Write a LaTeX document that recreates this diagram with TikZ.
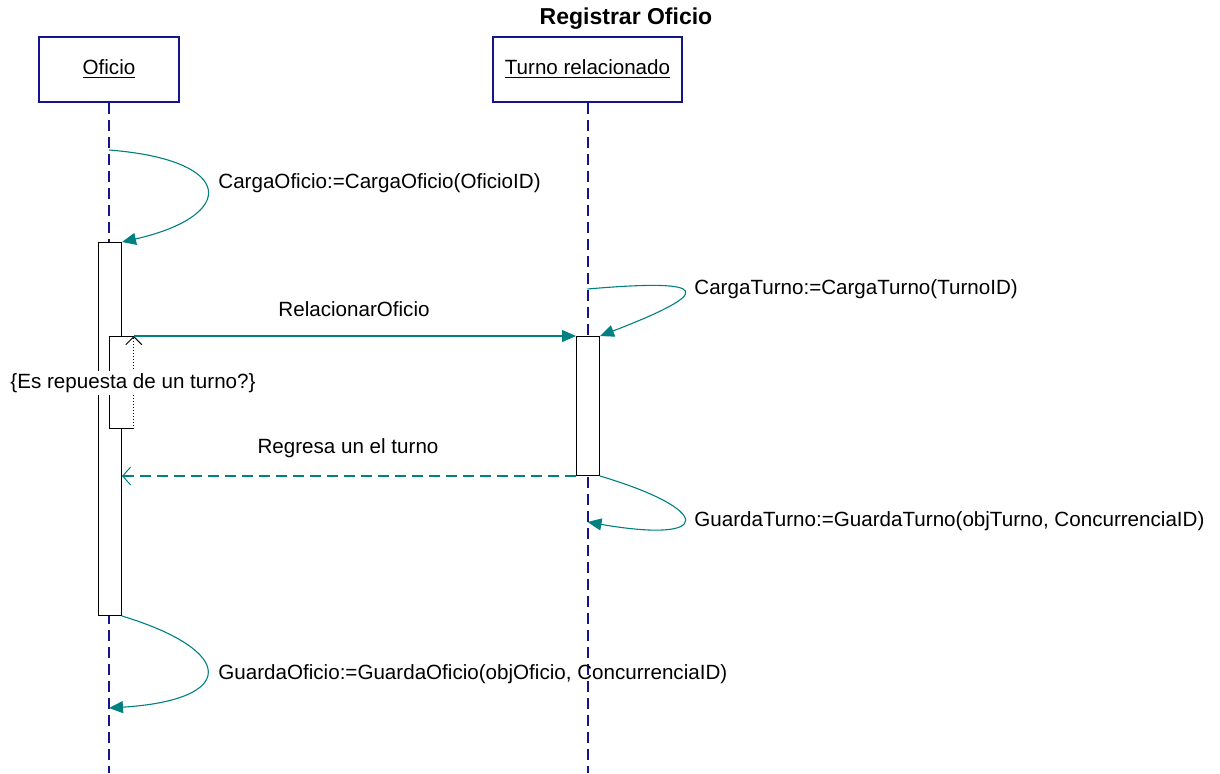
\documentclass[tikz,border=0pt]{standalone}
\usepackage{fontspec}
\setmainfont{Liberation Sans}
\usetikzlibrary{arrows.meta}
\definecolor{lineanavy}{RGB}{20,20,140}
\definecolor{mensaje}{RGB}{0,128,128}

\begin{document}
\begin{tikzpicture}[
		x=0.5pt,
		y=-0.5pt,
		font=\fontsize{10.3}{12}\selectfont,
		objeto/.style={draw=lineanavy, line width=0.6pt, fill=white, minimum height=32.5pt},
		vida/.style={draw=lineanavy, line width=1pt, dash pattern=on 5.5pt off 3pt},
		activ/.style={draw=black, line width=0.5pt, fill=white, anchor=north west, minimum width=11.5pt},
		msg/.style={draw=mensaje, line width=0.55pt, -{Triangle[length=7pt,width=6pt]}},
		ret/.style={draw=mensaje, line width=1pt, dash pattern=on 5.5pt off 3pt, -{Straight Barb[length=4pt,width=9pt,line width=0.5pt]}},
		etiq/.style={anchor=west, inner sep=0pt}
	]
	  	\useasboundingbox (0,0) rectangle (1220,773);
	  	\node[font=\fontsize{11.5}{13}\selectfont\bfseries] (titulo) at (626,19) {Registrar Oficio};
	  	\node[objeto, minimum width=70pt] (oficio) at (109,69.5) {\underline{Oficio}};
	  	\node[objeto, minimum width=94.5pt] (turno) at (587.5,69.5) {\underline{Turno relacionado}};
	  	\coordinate (finO) at (109,773);
	  	\coordinate (finT) at (587.5,773);
	  	\draw[vida] (oficio.south) -- (finO);
	  	\draw[vida] (turno.south) -- (finT);
	  	\node[activ, minimum height=186.5pt] (actO) at (98,242) {};
	  	\node[activ, minimum height=69.5pt] (actT) at (576,336) {};
	  	\node[fill=white, anchor=north west, minimum width=12pt, minimum height=46pt, inner sep=0pt] (cond) at (109,336) {};
	  	\draw[line width=0.5pt] (cond.north east) -- (cond.north west) -- (cond.south west) -- (cond.south east);
	  	\draw[line width=0.5pt, densely dotted, -{Straight Barb[length=4pt,width=8pt,line width=0.5pt]}] (cond.south east) -- (cond.north east);
	  	\node[fill=white, inner sep=1pt] (pregunta) at (133,383) {\{Es repuesta de un turno?\}};
	  	\coordinate (c1) at (109,150);
	  	\draw[msg] (c1) .. controls (237,160) and (237,216) .. (actO.north east);
	  	\node[etiq] (lblCO) at (218,183) {CargaOficio:=CargaOficio(OficioID)};
	  	\coordinate (c2) at (587.5,289);
	  	\draw[msg] (c2) .. controls (714,278) and (714,292) .. (actT.north east);
	  	\node[etiq] (lblCT) at (694,289) {CargaTurno:=CargaTurno(TurnoID)};
	  	\draw[msg] (cond.north east) -- (actT.north west);
	  	\node (lblRO) at (354,309) {RelacionarOficio};
	  	\draw[ret] (actT.south west) -- (actO.east |- actT.south west);
	  	\node (lblRT) at (348,448) {Regresa un el turno};
	  	\coordinate (c3) at (587.5,522);
	  	\draw[msg] (actT.south east) .. controls (714,510) and (714,544) .. (c3);
	  	\node[etiq] (lblGT) at (694,521) {GuardaTurno:=GuardaTurno(objTurno, ConcurrenciaID)};
	  	\coordinate (c4) at (109,708);
	  	\draw[msg] (actO.south east) .. controls (237,651) and (237,700) .. (c4);
	  	\node[etiq] (lblGO) at (218,674) {GuardaOficio:=GuardaOficio(objOficio, ConcurrenciaID)};
	\end{tikzpicture}
\end{document}
